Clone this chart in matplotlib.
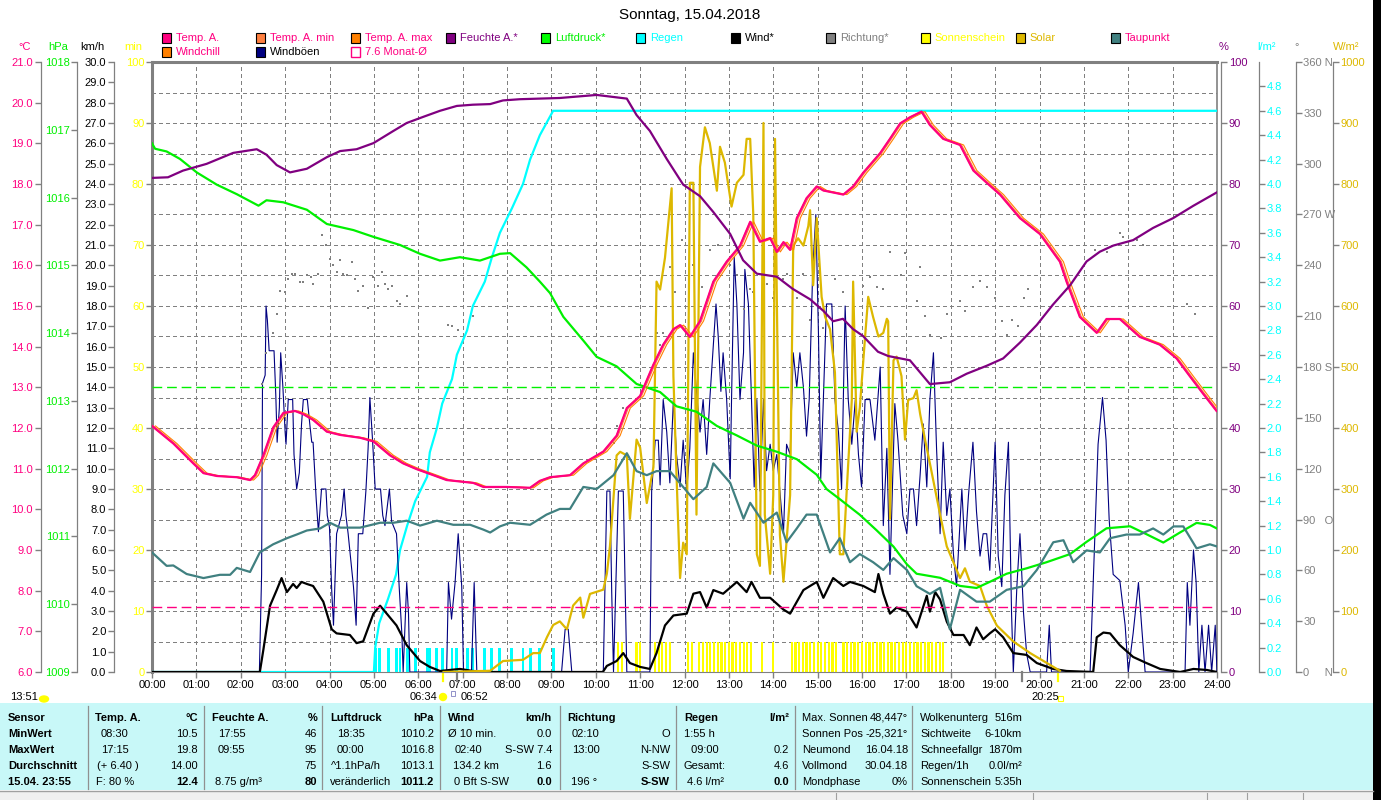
import numpy as np
import matplotlib
matplotlib.use("Agg")
import matplotlib.pyplot as plt
import matplotlib.transforms as mtransforms
from matplotlib.patches import Rectangle, Ellipse

plt.rcParams['font.family'] = ['Liberation Sans', 'DejaVu Sans']
plt.rcParams['font.size'] = 8

# ---------------- data ----------------
hum_t = [0.00,0.36,0.70,1.23,1.83,2.36,2.58,2.81,3.11,3.49,3.94,4.24,4.61,4.99,5.44,5.74,6.11,6.49,6.87,7.23,
         7.62,7.91,8.29,8.74,9.19,10.02,10.70,10.92,11.22,11.60,11.97,12.35,12.65,13.03,13.32,13.63,14.08,14.44,14.83,15.13,
         15.35,15.57,15.80,16.02,16.36,16.59,17.08,17.53,17.98,18.36,18.81,19.18,19.56,19.94,20.30,20.69,21.06,21.36,21.66,22.11,
         22.56,23.01,23.46,23.99]
hum_v = [81.0,81.1,82.2,83.3,85.1,85.7,84.8,83.1,81.9,82.5,84.4,85.4,85.7,86.7,88.7,90.0,91.0,92.0,92.8,93.0,
         93.1,93.7,93.9,94.0,94.1,94.6,94.0,91.3,88.7,84.1,79.9,78.0,75.4,71.8,67.5,65.3,64.8,62.8,61.1,59.2,
         57.5,57.9,56.2,55.1,52.5,51.8,51.1,47.2,47.5,48.9,50.2,51.4,54.0,56.9,60.2,63.4,67.3,68.9,69.9,70.8,
         72.8,74.4,76.4,78.6]

temp_t = [0.00,0.48,0.93,1.16,1.46,1.91,2.21,2.32,2.51,2.73,2.96,3.22,3.41,3.63,3.94,4.24,4.69,4.99,5.36,5.66,
          5.96,6.34,6.64,7.24,7.47,7.99,8.52,8.74,8.97,9.42,9.72,10.17,10.47,10.70,11.00,11.30,11.52,11.75,11.90,12.12,
          12.35,12.65,12.95,13.25,13.48,13.70,13.93,14.08,14.23,14.38,14.53,14.75,14.98,15.13,15.58,15.80,16.03,16.41,16.63,16.86,
          17.08,17.34,17.53,17.83,18.21,18.51,18.81,19.11,19.56,20.01,20.46,20.61,20.91,21.29,21.51,21.81,22.26,22.71,23.09,23.39,
          23.69,23.99]
temp_v = [12.05,11.62,11.13,10.89,10.82,10.79,10.72,10.84,11.33,12.01,12.37,12.42,12.34,12.20,11.91,11.83,11.76,11.67,11.33,11.13,
          10.99,10.84,10.72,10.65,10.55,10.55,10.53,10.70,10.79,10.84,11.13,11.42,11.81,12.49,12.79,13.56,14.05,14.43,14.53,14.24,
          14.63,15.60,16.09,16.48,17.07,16.58,16.67,16.33,16.57,16.38,17.16,17.65,17.94,17.84,17.74,17.94,18.28,18.76,19.11,19.49,
          19.64,19.78,19.45,19.11,18.96,18.33,18.03,17.74,17.16,16.77,16.09,15.60,14.73,14.34,14.68,14.68,14.24,14.05,13.71,13.27,
          12.84,12.42]

dew_t = [0.00,0.33,0.48,0.78,1.16,1.53,1.76,1.91,2.21,2.43,2.73,3.04,3.26,3.49,3.79,4.01,4.24,4.69,5.14,5.44,
         5.74,6.04,6.42,6.79,7.17,7.47,7.62,7.84,8.07,8.52,8.89,9.19,9.42,9.72,10.02,10.40,10.70,10.92,11.15,11.37,
         11.67,11.97,12.20,12.50,12.65,13.03,13.33,13.48,13.78,14.08,14.30,14.53,14.75,14.98,15.28,15.50,15.73,15.95,16.25,16.48,
         16.71,17.01,17.23,17.53,17.76,17.98,18.21,18.58,18.88,19.26,19.64,19.94,20.31,20.54,20.76,21.06,21.36,21.59,21.96,22.26,
         22.56,22.79,23.02,23.24,23.54,23.84,23.99]
dew_v = [8.94,8.61,8.62,8.41,8.31,8.39,8.39,8.56,8.46,8.94,9.14,9.29,9.38,9.48,9.53,9.67,9.55,9.55,9.67,9.67,
         9.72,9.60,9.72,9.62,9.62,9.50,9.43,9.58,9.67,9.62,9.87,10.01,10.01,10.55,10.50,10.84,11.38,10.94,10.84,10.94,
         10.94,10.55,10.25,10.55,11.13,10.65,9.77,10.16,9.67,9.92,9.19,9.53,9.87,9.87,8.94,9.29,8.70,8.90,8.70,8.51,
         8.80,8.51,8.11,7.92,8.07,7.05,8.02,7.73,7.73,8.02,8.11,8.51,9.19,9.24,8.70,8.99,8.94,9.29,9.38,9.38,
         9.53,9.38,9.58,9.58,9.04,9.14,9.09]

pres_t = [0.00,0.07,0.33,0.63,1.01,1.46,1.91,2.40,2.58,2.96,3.49,3.94,4.54,4.99,5.59,6.04,6.49,6.94,7.39,7.84,
          8.07,8.44,8.74,8.97,9.27,9.72,10.02,10.47,10.92,11.45,11.82,12.27,12.73,13.18,13.63,14.08,14.53,14.98,15.20,15.50,
          15.95,16.33,16.71,17.01,17.23,17.76,18.21,18.58,18.88,19.26,19.71,20.16,20.69,21.06,21.51,22.04,22.42,22.79,23.17,23.54,
          23.84,23.99]
pres_v = [1016.80,1016.72,1016.68,1016.57,1016.37,1016.19,1016.05,1015.88,1015.96,1015.93,1015.82,1015.61,1015.52,1015.42,1015.30,
          1015.17,1015.07,1015.12,1015.07,1015.17,1015.18,1014.97,1014.76,1014.59,1014.24,1013.89,1013.65,1013.51,1013.25,1013.13,
          1012.92,1012.84,1012.63,1012.49,1012.34,1012.25,1012.14,1011.91,1011.70,1011.55,1011.32,1011.09,1010.85,1010.59,1010.45,
          1010.39,1010.27,1010.24,1010.33,1010.45,1010.53,1010.62,1010.74,1010.92,1011.12,1011.15,1011.03,1010.91,1011.06,1011.20,
          1011.17,1011.12]

wind_t = [0.00,2.43,2.51,2.66,2.81,2.92,3.04,3.18,3.26,3.37,3.49,3.63,3.86,4.05,4.16,4.46,4.61,4.76,4.99,5.14,
          5.29,5.51,5.74,6.04,6.26,6.49,6.94,7.23,7.62,10.16,10.25,10.47,10.62,10.77,11.00,11.22,11.37,11.56,11.75,12.05,
          12.20,12.35,12.50,12.65,12.87,13.18,13.40,13.51,13.70,13.93,14.23,14.38,14.68,14.98,15.13,15.35,15.58,15.73,16.03,16.29,
          16.37,16.48,16.63,16.78,17.01,17.23,17.46,17.53,17.65,17.76,17.91,18.06,18.29,18.43,18.58,18.73,18.88,19.00,19.18,19.41,
          19.71,19.94,20.31,20.61,21.21,21.29,21.44,21.59,21.81,22.11,22.41,22.72,23.17,23.47,23.77,24.00]
wind_v = [0,0,1.1,3.26,4.03,4.62,3.93,4.33,4.13,4.43,4.33,4.23,3.46,2.10,1.90,1.82,1.42,1.51,2.87,3.26,
          2.87,2.29,1.32,0.54,0.25,0.05,0.15,0.05,0,0,0.3,0.54,0.93,0.44,0.25,0.15,0.93,2.29,2.78,2.87,
          3.85,3.93,3.17,4.03,3.85,4.43,3.93,4.43,3.65,3.65,3.07,2.87,4.03,4.43,3.65,4.62,4.23,4.43,4.23,3.93,
          4.82,3.85,2.87,3.17,2.97,2.19,3.75,2.97,3.93,3.56,2.48,1.82,1.82,1.32,2.19,1.61,1.90,2.10,1.71,0.93,
          0.84,0.44,0.15,0.05,0,1.71,1.94,1.90,1.32,0.74,0.44,0.15,0,0.15,0.1,0]

gust_t = [0.00,2.42,2.47,2.49,2.55,2.57,2.60,2.64,2.75,2.79,2.82,2.87,2.90,2.95,3.00,3.02,3.07,3.17,3.20,3.26,
          3.32,3.37,3.41,3.50,3.56,3.60,3.63,3.70,3.75,3.82,3.92,3.95,4.00,4.05,4.09,4.16,4.27,4.33,4.37,4.42,
          4.54,4.60,4.65,4.75,4.82,4.87,4.91,4.97,5.03,5.15,5.20,5.25,5.30,5.35,5.40,5.51,5.57,5.63,5.66,5.74,
          5.78,5.81,6.64,6.68,6.75,6.83,6.90,6.98,7.02,7.20,7.26,7.32,9.23,9.31,9.38,9.46,10.17,10.25,10.32,10.36,
          10.40,10.51,10.62,10.70,11.22,11.26,11.34,11.41,11.45,11.52,11.60,11.67,11.75,11.82,11.90,11.97,12.05,12.12,12.20,12.27,
          12.35,12.42,12.50,12.57,12.65,12.71,12.76,12.82,12.87,12.95,13.03,13.06,13.12,13.18,13.25,13.33,13.36,13.44,13.51,13.57,
          13.63,13.70,13.78,13.85,13.93,14.00,14.08,14.15,14.23,14.30,14.38,14.45,14.53,14.60,14.68,14.75,14.81,14.87,14.89,14.96,
          15.02,15.07,15.13,15.20,15.32,15.39,15.47,15.54,15.62,15.69,15.77,15.85,15.92,15.99,16.07,16.18,16.29,16.41,16.48,16.56,
          16.63,16.74,16.81,16.92,17.01,17.08,17.16,17.23,17.31,17.38,17.46,17.53,17.61,17.68,17.76,17.83,17.91,17.98,18.06,18.13,
          18.25,18.32,18.40,18.50,18.58,18.66,18.73,18.81,18.88,19.00,19.07,19.15,19.22,19.30,19.37,19.41,19.49,19.56,19.64,19.71,
          19.79,20.16,20.22,20.27,21.14,21.25,21.32,21.42,21.50,21.57,21.66,21.81,21.93,22.00,22.11,22.23,22.30,22.38,23.28,23.33,
          23.39,23.47,23.53,23.59,23.66,23.73,23.81,23.88,23.96,24.00]
gust_v = [0,0,4.8,14.2,14.6,18.0,17.3,15.8,15.8,13.6,11.3,13.0,15.7,14.0,11.8,11.2,13.4,13.4,10.7,9.0,
          9.8,12.2,13.4,13.4,12.1,11.3,11.3,8.5,6.9,9.0,9.0,7.7,7.1,4.0,2.3,6.8,7.7,9.0,7.7,6.8,
          4.2,2.3,6.8,6.8,8.9,11.0,13.5,11.4,9.0,9.0,7.7,7.2,8.1,9.0,7.4,6.8,4.2,1.9,0,4.4,
          2.9,0,0,4.4,2.6,4.4,6.8,4.2,0,0,4.4,0,0,2.1,2.1,0,0,8.9,8.9,3.9,
          0,8.9,8.9,0,0,8.9,11.4,11.4,9.2,13.4,11.8,9.3,13.4,10.7,9.1,11.4,8.9,11.0,15.7,13.8,
          11.8,13.4,10.7,13.4,16.1,18.1,16.5,13.8,15.7,13.4,9.5,13.4,20.4,18.1,13.4,15.7,19.8,18.1,13.4,9.1,
          13.4,8.9,13.4,9.9,11.2,9.9,10.7,8.9,6.8,11.2,10.7,15.7,14.0,15.7,14.0,11.6,13.4,18.1,19.8,22.5,
          16.5,9.5,13.4,18.1,18.1,13.4,11.8,9.0,18.0,13.4,11.2,13.4,10.7,9.1,13.4,13.4,11.4,15.0,7.2,11.0,
          4.8,13.2,11.4,7.7,6.8,9.0,9.0,7.2,9.7,12.2,9.1,13.4,15.7,11.0,6.8,11.3,7.7,9.0,5.8,4.2,
          9.0,6.0,8.7,11.3,7.9,5.7,6.8,6.8,5.0,11.3,5.7,4.2,8.7,11.3,2.9,0,4.2,6.8,2.9,0.9,
          0,0,2.3,0,0,6.8,11.2,13.5,11.4,7.5,4.8,4.5,2.3,0,1.9,4.4,2.3,0,0,4.4,
          2.3,6.0,4.4,0,2.3,0,2.3,0,2.3,0]

sol_t = [6.57,7.62,7.91,8.36,8.59,8.74,8.90,9.04,9.19,9.35,9.49,9.65,9.72,9.87,10.17,10.25,10.32,10.47,10.55,10.70,
         10.77,10.92,11.00,11.15,11.30,11.37,11.45,11.56,11.71,11.75,11.82,11.90,11.97,12.05,12.12,12.20,12.27,12.35,12.46,12.57,
         12.73,12.80,12.91,13.06,13.18,13.33,13.40,13.48,13.55,13.63,13.70,13.78,13.81,13.93,14.00,14.04,14.08,14.15,14.23,14.38,
         14.45,14.56,14.68,14.79,14.83,14.90,14.98,15.09,15.17,15.28,15.39,15.50,15.58,15.65,15.77,15.80,15.88,15.95,16.07,16.14,
         16.25,16.37,16.48,16.56,16.59,16.63,16.71,16.78,16.89,16.97,17.04,17.16,17.23,17.31,17.42,17.53,17.76,17.91,18.06,18.21,
         18.32,18.43,18.66,18.81,19.04,19.41,19.79,20.16,20.46]
sol_v = [0,2,18,20,31,31,57,77,83,70,109,122,89,128,135,161,206,355,361,355,
         251,381,368,277,336,640,627,679,793,485,323,154,212,193,802,802,258,828,893,867,
         789,861,835,763,802,815,874,874,750,193,174,900,258,161,290,874,615,225,148,290,
         699,711,699,731,757,634,744,615,582,562,491,193,193,290,446,640,394,433,550,615,
         582,550,556,579,575,251,511,517,485,381,446,449,462,423,381,342,258,206,180,154,
         170,148,141,109,76,50,31,15,2]

dir_t = [2.47,2.57,2.73,2.81,2.88,3.00,3.07,3.15,3.22,3.34,3.41,3.49,3.58,3.63,3.75,3.82,3.92,4.01,4.07,4.16,
         4.24,4.31,4.39,4.50,4.57,4.65,4.76,4.87,4.99,5.10,5.18,5.25,5.32,5.40,5.51,5.59,5.74,6.68,6.75,6.90,
         7.24,10.40,10.47,10.62,11.37,11.45,11.52,11.67,11.79,11.94,12.20,12.39,12.57,12.76,13.03,13.18,13.33,13.48,13.55,13.78,
         13.85,14.00,14.23,14.30,14.53,14.68,14.83,15.13,15.39,15.58,15.80,16.03,16.18,16.33,16.48,16.63,16.89,16.97,17.23,17.31,
         17.42,17.53,17.79,17.91,18.21,18.32,18.51,18.66,18.81,19.00,19.15,19.26,19.37,19.52,19.64,19.75,21.25,21.51,21.81,21.89,
         22.19,22.34,23.32,23.50]
dir_v = [170,188,200,211,225,224,232,235,235,230,230,234,233,229,235,258,252,244,240,236,
         243,235,234,242,232,225,228,215,233,228,236,229,226,228,219,217,222,205,204,202,
         210,135,145,156,200,193,200,239,224,255,240,227,249,252,240,234,214,226,224,246,
         229,221,232,235,221,235,208,203,232,224,220,228,233,227,226,248,234,247,219,239,
         210,199,197,211,219,213,227,231,227,221,207,199,208,204,221,226,249,248,259,257,
         255,252,217,211]

rain_tip_t = [5.03,5.12,5.32,5.50,5.59,5.75,5.93,6.20,6.26,6.42,6.54,6.76,6.87,7.10,7.23,7.50,7.66,7.84,
              8.11,8.36,8.52,8.74,9.04]
rain_tip_mm = [0.2] * len(rain_tip_t)
rain_start = 5.0

sun_periods = [("10:30", "10:35"), ("10:55", "11:00"), ("11:20", "11:40"), ("12:05", "12:10"),
               ("12:20", "13:30"), ("13:45", "13:45"), ("14:00", "14:00"), ("14:25", "15:25"),
               ("15:35", "17:50")]
sun_min_per_slot = 5

temp_month_avg = 7.6
pres_ref = 1013.2
sunrise, sunset = 6.567, 20.417
moonrise, moonset = 6.867, 19.6

hour_labels = [f"{h:02d}:00" for h in range(25)]

# ---------------- figure ----------------
W, H = 1381, 800
fig = plt.figure(figsize=(W / 100, H / 100), dpi=100)
fig.patch.set_facecolor('white')

X0, X1, Y0, Y1 = 152, 1217, 62, 672
def fx(p): return p / W
def fy(p): return 1 - p / H
def af(p): return (p - X0) / (X1 - X0)

GRAY = '#808080'
PINK = '#FF0080'
GREEN = '#00F000'
PURPLE = '#800080'
CYAN = '#00FFFF'
GOLD = '#DDB800'
YEL = '#FFFF00'
TEAL = '#408080'
NAVY = '#000080'

ax = fig.add_axes([fx(X0), fy(Y1), (X1 - X0) / W, (Y1 - Y0) / H])
ax.set_xlim(0, 24)
ax.set_ylim(0, 100)
ax.set_xticks(range(25))
ax.set_xticklabels(hour_labels)
ax.set_yticks(range(0, 101, 10))
ax.set_yticks(range(5, 100, 10), minor=True)
ax.tick_params(axis='y', which='major', colors=GRAY, labelcolor=YEL, length=4, width=1, pad=1.5, labelsize=8)
ax.tick_params(axis='y', which='minor', length=0)
ax.tick_params(axis='x', colors=GRAY, labelcolor='black', length=4, width=1, pad=2, labelsize=8)
grid_kw = dict(color=GRAY, linewidth=0.72, dashes=(3, 3), antialiased=False)
ax.grid(True, which='both', axis='y', **grid_kw)
ax.grid(True, which='major', axis='x', **grid_kw)
ax.set_axisbelow(True)
for s in ['left', 'top']:
    ax.spines[s].set_color(GRAY)
    ax.spines[s].set_linewidth(2.2)
ax.spines['right'].set_color(GRAY)
ax.spines['right'].set_linewidth(1.2)
ax.spines['bottom'].set_color(GRAY)
ax.spines['bottom'].set_linewidth(0.8)

# sunshine bars (minutes per 5-min slot)
def hm(s):
    h, m = s.split(":")
    return int(h) + int(m) / 60.0
sun_slots = []
for a, b in sun_periods:
    t = hm(a)
    while t <= hm(b) + 1e-6:
        sun_slots.append(t)
        t += 5 / 60.0
ax.bar(sun_slots, [sun_min_per_slot] * len(sun_slots), width=0.05, color=YEL, linewidth=0, zorder=2)


def twin(side, pos_px, lim, ticks, labels, labelcolor):
    a = ax.twinx()
    a.set_ylim(*lim)
    for s in a.spines.values():
        s.set_visible(False)
    sp = a.spines[side]
    sp.set_visible(True)
    sp.set_color(GRAY)
    sp.set_linewidth(0.9)
    sp.set_position(('axes', af(pos_px)))
    if side == 'left':
        a.yaxis.tick_left()
    else:
        a.yaxis.tick_right()
    a.set_yticks(ticks)
    a.set_yticklabels(labels)
    a.tick_params(axis='y', colors=GRAY, labelcolor=labelcolor, length=4, width=1, pad=1.5, labelsize=8)
    a.set_xlim(0, 24)
    return a

# rain
ax_rain = twin('right', 1258.7, (0, 5), [i * 0.2 for i in range(25)],
               [f"{i * 0.2:.1f}" for i in range(25)], CYAN)
ax_rain.bar(rain_tip_t, rain_tip_mm, width=0.065, color=CYAN, linewidth=0)
rain_cum = np.cumsum(rain_tip_mm)
ax_rain.plot([0, rain_start] + rain_tip_t + [24], [0, 0] + list(rain_cum) + [rain_cum[-1]],
             color=CYAN, lw=1.6, solid_joinstyle='miter')

# wind
ax_kmh = twin('left', 114, (0, 30), list(range(31)), [f"{i}.0" for i in range(31)], 'black')
ax_kmh.plot(gust_t, gust_v, color=NAVY, lw=0.8)
ax_kmh.plot(wind_t, wind_v, color='black', lw=1.6)

# direction
dir_labels = ['0     N', '30', '60', '90   O', '120', '150', '180 S', '210', '240', '270 W', '300', '330', '360 N']
ax_dir = twin('right', 1295.7, (0, 360), list(range(0, 361, 30)), dir_labels, GRAY)
ax_dir.plot(dir_t, dir_v, 's', ms=1.7, color=GRAY, mew=0)

# solar
ax_sol = twin('right', 1332.7, (0, 1000), list(range(0, 1001, 100)), [str(i) for i in range(0, 1001, 100)], GOLD)
ax_sol.plot(sol_t, sol_v, color=GOLD, lw=1.6)

# pressure
ax_hpa = twin('left', 77.3, (1009, 1018), list(range(1009, 1019)), [str(i) for i in range(1009, 1019)], GREEN)
ax_hpa.axhline(pres_ref, color=GREEN, lw=1.0, dashes=(7, 3.5))
ax_hpa.plot(pres_t, pres_v, color=GREEN, lw=1.6)

# temperatures
ax_temp = twin('left', 40.7, (6, 21), list(range(6, 22)), [f"{i}.0" for i in range(6, 22)], PINK)
ax_temp.axhline(temp_month_avg, color=PINK, lw=1.0, dashes=(7, 3.5))
ax_temp.plot(dew_t, dew_v, color=TEAL, lw=1.6)
off_a = ax_temp.transData + mtransforms.ScaledTranslation(0.015, 0, fig.dpi_scale_trans)
off_b = ax_temp.transData + mtransforms.ScaledTranslation(0.035, 0, fig.dpi_scale_trans)
ax_temp.plot(temp_t, temp_v, color='#FF8040', lw=0.8, transform=off_a)   # Temp. A. min
ax_temp.plot(temp_t, temp_v, color='#FF8000', lw=0.8, transform=off_b)   # Temp. A. max
ax_temp.plot(temp_t, temp_v, color='#FF8000', lw=1.0)                    # Windchill
ax_temp.plot(temp_t, temp_v, color=PINK, lw=1.6)                         # Temp. A.

# humidity
ax_pct = twin('right', 1221, (0, 100), list(range(0, 101, 10)), [str(i) for i in range(0, 101, 10)], PURPLE)
ax_pct.plot(hum_t, hum_v, color=PURPLE, lw=1.6)

# sun / moon markers below the axis
bt = mtransforms.blended_transform_factory(ax.transData, ax.transAxes)
for t, c in [(sunrise, YEL), (moonrise, GRAY), (moonset, GRAY), (sunset, YEL)]:
    ax.plot([t, t], [0, -0.014], color=c, lw=1.6, transform=bt, clip_on=False)

# ---------------- header texts ----------------
fig.text(fx(690), fy(15), "Sonntag, 15.04.2018", ha='center', va='center', fontsize=11)

leg1 = [("Temp. A.", PINK, PINK), ("Temp. A. min", '#FF8040', PINK), ("Temp. A. max", '#FF8000', PINK),
        ("Feuchte A.*", PURPLE, PURPLE), ("Luftdruck*", '#00FF00', GREEN), ("Regen", CYAN, CYAN),
        ("Wind*", 'black', 'black'), ("Richtung*", GRAY, GRAY), ("Sonnenschein", YEL, YEL),
        ("Solar", GOLD, GOLD), ("Taupunkt", TEAL, PINK)]
leg2 = [("Windchill", '#FF8000', PINK), ("Windböen", NAVY, 'black'), ("7.6 Monat-Ø", None, PINK)]
for row, yy in [(leg1, 38), (leg2, 52)]:
    for i, (lab, fc, tc) in enumerate(row):
        x = 161.5 + i * 94.9
        if fc is None:
            fig.patches.append(Rectangle((fx(x), fy(yy + 5)), 9 / W, 10 / H, transform=fig.transFigure,
                                         facecolor='white', edgecolor=PINK, lw=1.0))
        else:
            fig.patches.append(Rectangle((fx(x), fy(yy + 5)), 9 / W, 10 / H, transform=fig.transFigure,
                                         facecolor=fc, edgecolor='black', lw=0.8))
        fig.text(fx(x + 14), fy(yy), lab, color=tc, ha='left', va='center', fontsize=8)

for lab, x, c in [("°C", 25, PINK), ("hPa", 58, GREEN), ("km/h", 92, 'black'), ("min", 133, YEL),
                  ("%", 1224, PURPLE), ("l/m²", 1267, CYAN), ("°", 1297, GRAY), ("W/m²", 1346, GOLD)]:
    fig.text(fx(x), fy(47), lab, color=c, ha='center', va='center', fontsize=8)

# ---------------- bottom info line ----------------
fig.text(fx(10), fy(697), "13:51", ha='left', va='center', fontsize=8)
fig.patches.append(Ellipse((fx(44), fy(699)), 9 / W, 6 / H, transform=fig.transFigure, color=YEL))
fig.text(fx(437), fy(697), "06:34", ha='right', va='center', fontsize=8)
fig.patches.append(Ellipse((fx(443), fy(697)), 7 / W, 7 / H, transform=fig.transFigure, color=YEL))
fig.patches.append(Rectangle((fx(451), fy(696)), 4 / W, 5 / H, transform=fig.transFigure,
                             facecolor='none', edgecolor='#8080C0', lw=0.6))
fig.text(fx(461), fy(697), "06:52", ha='left', va='center', fontsize=8)
fig.text(fx(1031), fy(697), "20:25", ha='left', va='center', fontsize=8)
fig.patches.append(Rectangle((fx(1058), fy(701)), 5 / W, 5 / H, transform=fig.transFigure,
                             facecolor='none', edgecolor=YEL, lw=0.8))

# ---------------- table ----------------
fig.patches.append(Rectangle((0, fy(790)), fx(1373), 87 / H, transform=fig.transFigure,
                             facecolor='#C8F8F8', edgecolor='none'))
for xs in [88, 204, 322, 440, 560, 676, 795, 912]:
    fig.add_artist(plt.Line2D([fx(xs), fx(xs)], [fy(706), fy(789)], transform=fig.transFigure,
                              color='#909090', lw=0.9))
fig.patches.append(Rectangle((0, 0), fx(1373), 9 / H, transform=fig.transFigure,
                             facecolor='#F0F0F0', edgecolor='none'))
fig.add_artist(plt.Line2D([0, fx(1373)], [fy(791), fy(791)], transform=fig.transFigure, color='#A0A0A0', lw=1))
for xs in [836, 1033, 1207, 1247, 1303]:
    fig.add_artist(plt.Line2D([fx(xs), fx(xs)], [fy(793), fy(800)], transform=fig.transFigure,
                              color='#A0A0A0', lw=0.8))
fig.patches.append(Rectangle((fx(1373), 0), 8 / W, 1, transform=fig.transFigure,
                             facecolor='black', edgecolor='none'))

rows_y = [718, 734, 750, 766, 782]
col1 = ["Sensor", "MinWert", "MaxWert", "Durchschnitt", "15.04. 23:55"]
for s, yy in zip(col1, rows_y):
    fig.text(fx(8), fy(yy), s, ha='left', va='center', fontsize=8, fontweight='bold')

def column(xl, xr, header, unit, lefts, rights, left_x=None):
    fig.text(fx(xl), fy(rows_y[0]), header, ha='left', va='center', fontsize=8, fontweight='bold')
    if unit:
        fig.text(fx(xr), fy(rows_y[0]), unit, ha='right', va='center', fontsize=8, fontweight='bold')
    for i, (l, r) in enumerate(zip(lefts, rights)):
        yy = rows_y[i + 1]
        lx = left_x[i] if left_x else xl
        if l:
            fig.text(fx(lx), fy(yy), l, ha='left', va='center', fontsize=8)
        if r:
            fig.text(fx(xr), fy(yy), r, ha='right', va='center', fontsize=8,
                     fontweight='bold' if i == 3 else 'normal')

column(95, 198, "Temp. A.", "°C", ["08:30", "17:15", "(+ 6.40 )", "F: 80 %"],
       ["10.5", "19.8", "14.00", "12.4"], [101, 101, 97, 96])
column(212, 317, "Feuchte A.", "%", ["17:55", "09:55", "", "8.75 g/m³"],
       ["46", "95", "75", "80"], [218, 218, 218, 215])
column(330, 434, "Luftdruck", "hPa", ["18:35", "00:00", "^1.1hPa/h", "veränderlich"],
       ["1010.2", "1016.8", "1013.1", "1011.2"], [337, 337, 331, 330])
column(448, 552, "Wind", "km/h", ["Ø 10 min.", "02:40", "134.2 km", "0 Bft S-SW"],
       ["0.0", "S-SW 7.4", "1.6", "0.0"], [448, 455, 453, 454])
column(567, 670, "Richtung", "", ["02:10", "13:00", "", "196 °"],
       ["O", "N-NW", "S-SW", "S-SW"], [572, 572, 572, 571])
column(684, 789, "Regen", "l/m²", ["1:55 h", " 09:00", "Gesamt:", "4.6 l/m²"],
       ["", "0.2", "4.6", "0.0"], [684, 688, 684, 687])

info1 = [("Max. Sonnen", "48,447°"), ("Sonnen Pos", "-25,321°"), ("Neumond", "16.04.18"),
         ("Vollmond", "30.04.18"), ("Mondphase", "0%")]
info2 = [("Wolkenunterg", "516m"), ("Sichtweite", "6-10km"), ("Schneefallgr", "1870m"),
         ("Regen/1h", "0.0l/m²"), ("Sonnenschein", "5:35h")]
for (l, r), yy in zip(info1, rows_y):
    fig.text(fx(802), fy(yy), l, ha='left', va='center', fontsize=8)
    fig.text(fx(908), fy(yy), r, ha='right', va='center', fontsize=8)
for (l, r), yy in zip(info2, rows_y):
    fig.text(fx(920), fy(yy), l, ha='left', va='center', fontsize=8)
    fig.text(fx(1022), fy(yy), r, ha='right', va='center', fontsize=8)

fig.savefig("out.png", dpi=100)
